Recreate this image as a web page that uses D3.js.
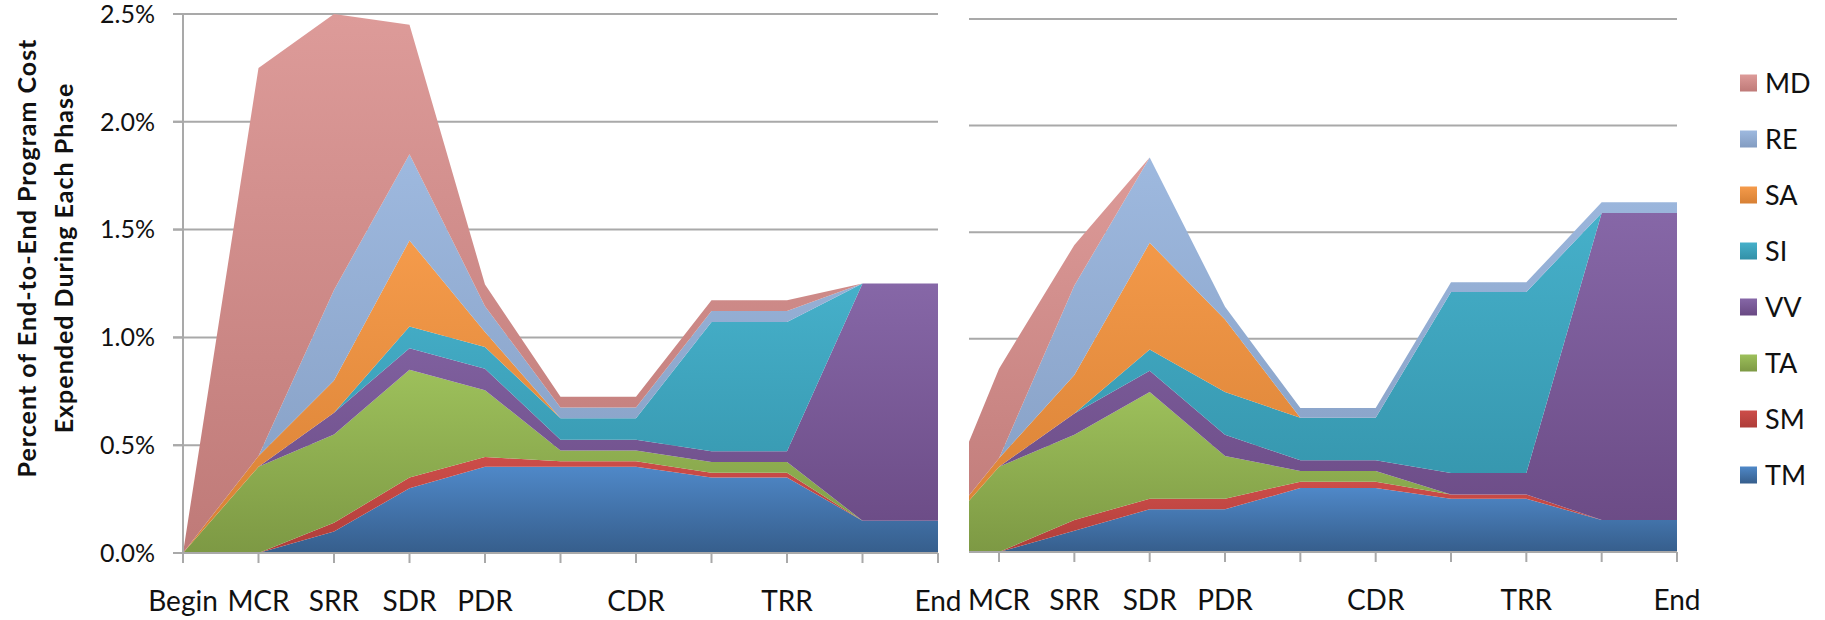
<!DOCTYPE html>
<html>
<head>
<meta charset="utf-8">
<script src="https://cdn.jsdelivr.net/npm/d3@7"></script>
<style>
  html, body { margin: 0; padding: 0; background: #fff; }
  svg { display: block; font-family: Lato, "Open Sans", sans-serif; }
</style>
</head>
<body>
<svg id="chart" width="1825" height="620"></svg>
<script>
// ---------- data ----------
const categories = ["Begin", "MCR", "SRR", "SDR", "PDR", "", "CDR", "", "TRR", "", "End"];
const seriesKeys = ["TM", "SM", "TA", "VV", "SI", "SA", "RE", "MD"]; // bottom -> top
const legendKeys = ["MD", "RE", "SA", "SI", "VV", "TA", "SM", "TM"];
const yTicks = [0, 0.5, 1.0, 1.5, 2.0, 2.5];
const yTickLabels = ["0.0%", "0.5%", "1.0%", "1.5%", "2.0%", "2.5%"];
const yTitle = ["Percent of End-to-End Program Cost", "Expended During Each Phase"];

// left panel (values in percent)
const leftTM = [0, 0, 0.10, 0.30, 0.40, 0.40, 0.40, 0.35, 0.35, 0.15, 0.15];
const leftSM = [0, 0, 0.04, 0.05, 0.045, 0.025, 0.025, 0.022, 0.022, 0, 0];
const leftTA = [0, 0.40, 0.41, 0.50, 0.31, 0.05, 0.05, 0.05, 0.05, 0, 0];
const leftVV = [0, 0, 0.10, 0.10, 0.10, 0.05, 0.05, 0.05, 0.05, 1.10, 1.10];
const leftSI = [0, 0, 0, 0.10, 0.10, 0.10, 0.10, 0.60, 0.60, 0, 0];
const leftSA = [0, 0.05, 0.15, 0.40, 0.07, 0, 0, 0, 0, 0, 0];
const leftRE = [0, 0, 0.42, 0.40, 0.12, 0.05, 0.05, 0.05, 0.05, 0, 0];
const leftMD = [0, 1.80, 1.28, 0.60, 0.10, 0.05, 0.05, 0.05, 0.05, 0, 0];

// right panel
const rightTM = [0, 0, 0.10, 0.20, 0.20, 0.30, 0.30, 0.25, 0.25, 0.15, 0.15];
const rightSM = [0, 0, 0.05, 0.05, 0.05, 0.03, 0.03, 0.02, 0.02, 0, 0];
const rightTA = [0, 0.40, 0.40, 0.50, 0.20, 0.05, 0.05, 0, 0, 0, 0];
const rightVV = [0, 0, 0.10, 0.10, 0.10, 0.05, 0.05, 0.10, 0.10, 1.44, 1.44];
const rightSI = [0, 0, 0, 0.10, 0.20, 0.20, 0.20, 0.85, 0.85, 0, 0];
const rightSA = [0, 0.04, 0.18, 0.50, 0.34, 0, 0, 0, 0, 0, 0];
const rightRE = [0, 0, 0.42, 0.40, 0.06, 0.045, 0.045, 0.045, 0.045, 0.05, 0.05];
const rightMD = [0, 0.42, 0.19, 0, 0, 0, 0, 0, 0, 0, 0];

const colors = {
  MD: ["#DD9B99", "#BF7A78"],
  RE: ["#9EB9DF", "#839CC1"],
  SA: ["#F59B4B", "#D78034"],
  SI: ["#46B0CA", "#3290A7"],
  VV: ["#8667A7", "#694983"],
  TA: ["#9DC05B", "#7D9944"],
  SM: ["#CD4D49", "#AE3D39"],
  TM: ["#4F88C8", "#365E8C"]
};

function buildRows(arrs) {
  return categories.map((c, i) => {
    const r = { i };
    seriesKeys.forEach(k => r[k] = arrs[k][i]);
    return r;
  });
}
const leftRows = buildRows({TM: leftTM, SM: leftSM, TA: leftTA, VV: leftVV, SI: leftSI, SA: leftSA, RE: leftRE, MD: leftMD});
const rightRows = buildRows({TM: rightTM, SM: rightSM, TA: rightTA, VV: rightVV, SI: rightSI, SA: rightSA, RE: rightRE, MD: rightMD});

// ---------- drawing ----------
const svg = d3.select("#chart");
const defs = svg.append("defs");
seriesKeys.forEach(k => {
  const g = defs.append("linearGradient").attr("id", "grad-" + k)
    .attr("x1", 0).attr("y1", 0).attr("x2", 0).attr("y2", 1);
  g.append("stop").attr("offset", "0%").attr("stop-color", colors[k][0]);
  g.append("stop").attr("offset", "100%").attr("stop-color", colors[k][1]);
});

const gridColor = "#A9A9A9";
const stack = d3.stack().keys(seriesKeys);

function panel(rows, opt) {
  const x = d3.scaleLinear().domain([0, categories.length - 1]).range(opt.xRange);
  const y = d3.scaleLinear().domain([0, 2.5]).range([opt.y0, opt.y1]);
  const g = svg.append("g");

  // gridlines
  g.selectAll("line.grid").data(yTicks.filter(v => v > 0)).join("line")
    .attr("x1", opt.gridLeft).attr("x2", opt.xRange[1])
    .attr("y1", d => y(d)).attr("y2", d => y(d))
    .attr("stroke", gridColor).attr("stroke-width", 2);

  // clip
  const clipId = "clip-" + opt.id;
  defs.append("clipPath").attr("id", clipId).append("rect")
    .attr("x", opt.clipLeft).attr("y", 0)
    .attr("width", opt.xRange[1] - opt.clipLeft + 1).attr("height", opt.y0 + 1);

  const area = d3.area().x(d => x(d.data.i)).y0(d => y(d[0])).y1(d => y(d[1]));
  g.append("g").attr("clip-path", `url(#${clipId})`)
    .selectAll("path").data(stack(rows)).join("path")
    .attr("d", area)
    .attr("fill", d => `url(#grad-${d.key})`);

  // x axis
  const xa = g.append("g").attr("transform", `translate(0,${opt.y0})`);
  xa.append("line").attr("x1", opt.clipLeft).attr("x2", opt.xRange[1])
    .attr("y1", 0).attr("y2", 0).attr("stroke", gridColor).attr("stroke-width", 2);
  const tickIdx = d3.range(categories.length).filter(i => x(i) >= opt.clipLeft - 0.5);
  xa.selectAll("line.tick").data(tickIdx).join("line")
    .attr("x1", d => x(d)).attr("x2", d => x(d)).attr("y1", 0).attr("y2", 10)
    .attr("stroke", gridColor).attr("stroke-width", 2);
  xa.selectAll("text").data(tickIdx.filter(i => categories[i] !== "")).join("text")
    .attr("x", d => x(d)).attr("y", 58)
    .attr("text-anchor", "middle").attr("font-size", 28).attr("fill", "#111")
    .text(d => categories[d]);

  if (opt.yAxis) {
    g.append("line").attr("x1", opt.xRange[0]).attr("x2", opt.xRange[0])
      .attr("y1", y(2.5)).attr("y2", opt.y0 + 10)
      .attr("stroke", gridColor).attr("stroke-width", 2);
    g.selectAll("line.ytick").data(yTicks).join("line")
      .attr("x1", opt.xRange[0] - 10).attr("x2", opt.xRange[0])
      .attr("y1", d => y(d)).attr("y2", d => y(d))
      .attr("stroke", gridColor).attr("stroke-width", 2);
    g.selectAll("text.ylab").data(yTicks).join("text")
      .attr("x", opt.xRange[0] - 28).attr("y", d => y(d))
      .attr("dy", "0.35em").attr("text-anchor", "end")
      .attr("font-size", 25).attr("fill", "#111")
      .text((d, i) => yTickLabels[i]);
  }
  return { x, y };
}

panel(leftRows, { id: "L", xRange: [183, 938], y0: 553, y1: 14, gridLeft: 173, clipLeft: 183, yAxis: true });
panel(rightRows, { id: "R", xRange: [923.7, 1677], y0: 552, y1: 19, gridLeft: 969, clipLeft: 969, yAxis: false });

// y title
const yt = svg.append("text").attr("transform", "translate(0,258) rotate(-90)")
  .attr("text-anchor", "middle").attr("font-size", 25).attr("font-weight", "bold")
  .attr("letter-spacing", 1).attr("fill", "#111");
yt.append("tspan").attr("x", 0).attr("y", 36).text(yTitle[0]);
yt.append("tspan").attr("x", 0).attr("y", 73).text(yTitle[1]);

// legend
const leg = svg.append("g").attr("transform", "translate(1740,83)");
const li = leg.selectAll("g").data(legendKeys).join("g")
  .attr("transform", (d, i) => `translate(0,${i * 56})`);
li.append("rect").attr("x", 0).attr("y", -8.5).attr("width", 17).attr("height", 17)
  .attr("fill", d => `url(#grad-${d})`);
li.append("text").attr("x", 25).attr("y", 0).attr("dy", "0.36em")
  .attr("font-size", 27).attr("fill", "#111").text(d => d);
</script>
</body>
</html>
